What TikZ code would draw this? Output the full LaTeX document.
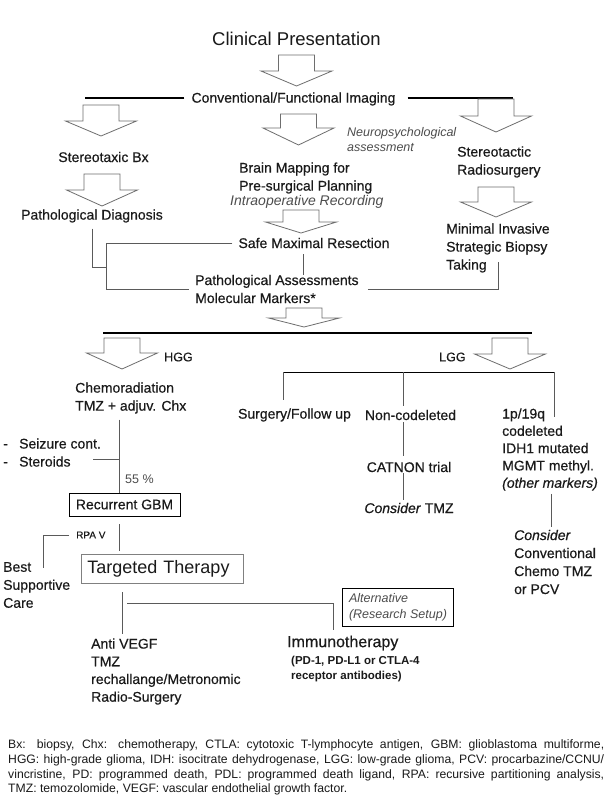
\documentclass[tikz,border=0pt]{standalone}
\usepackage{fontspec}
\setmainfont{Liberation Sans}
\newfontfamily\labelfont{Liberation Sans}[FakeBold=0.45]
\definecolor{ink}{HTML}{1A1A1A}
\definecolor{notegray}{HTML}{4D4D4D}
\definecolor{linegray}{HTML}{5A5A5A}
\definecolor{arrowgray}{HTML}{6E6E6E}
\definecolor{boxgray}{HTML}{808080}
% hollow block arrow: centre x, top, shoulder, tip
\newcommand{\blockarrow}[4]{%
  \draw[blockline] (#1-18,#2) -- (#1+18,#2) -- (#1+18,#3) -- (#1+35.5,#3)
    -- (#1,#4) -- (#1-35.5,#3) -- (#1-18,#3) -- cycle;}
\begin{document}
\begin{tikzpicture}[x=1pt,y=-1pt,
    lbl/.style={inner sep=0pt, text=ink, align=left, font=\labelfont\fontsize{14}{18}\selectfont},
    note/.style={lbl, text=notegray, font=\normalfont\fontsize{12.5}{15}\selectfont\itshape},
    conn/.style={draw=linegray, line width=0.8pt},
    mainline/.style={draw=black, line width=1.1pt},
    blockline/.style={draw=arrowgray, line width=0.8pt}]
    \path[fill=white] (0,0) rectangle (612,809);

    % Top: presentation and imaging
    \node[lbl, font=\normalfont\fontsize{18.5}{22}\selectfont] (title) at (296.5,39) {Clinical Presentation};
    \blockarrow{296.5}{55}{71}{86}
    \node[lbl] (imaging) at (293.5,99) {Conventional/Functional Imaging};
    \coordinate (imgL) at (85,98);
    \coordinate (imgR) at (513,98);
    \draw[mainline, shorten <=7pt] (imgL -| imaging.west) -- (imgL);
    \draw[mainline, shorten <=12pt] (imgR -| imaging.east) -- (imgR);
    \blockarrow{101}{105}{121}{136}
    \blockarrow{298.5}{114}{128}{145}
    \blockarrow{496}{99}{116}{132}

    % Three work-up routes
    \node[note, anchor=west] (neuro) at (347,139.5) {Neuropsychological\\assessment};
    \node[lbl] (stereobx) at (103.5,157) {Stereotaxic Bx};
    \node[lbl, anchor=west] (brain) at (239,178) {Brain Mapping for\\Pre-surgical Planning};
    \node[note, anchor=west, font=\normalfont\fontsize{14}{17}\selectfont\itshape] (intraop) at (230,202) {Intraoperative Recording};
    \node[lbl, anchor=west] (stsurg) at (457,162) {Stereotactic\\Radiosurgery};
    \blockarrow{102}{174}{190}{206}
    \blockarrow{496}{187}{202}{217}
    \blockarrow{301}{210}{222}{233}
    \node[lbl] (pathdx) at (92,216) {Pathological Diagnosis};
    \node[lbl] (safe) at (314,243) {Safe Maximal Resection};
    \node[lbl, anchor=west] (minimal) at (446,248) {Minimal Invasive\\Strategic Biopsy\\Taking};
    \node[lbl, anchor=west] (pathas) at (195,289) {Pathological Assessments\\Molecular Markers*};

    % Lines gathering into the pathology
    \coordinate (joinL) at (106,243);
    \coordinate (joinD) at (106,267);
    \coordinate (joinR) at (498,262);
    \coordinate (midX) at (303,0);
    \draw[conn, shorten <=6pt, shorten >=6pt] (safe.west) -- (joinL) |- (pathas.west);
    \draw[conn, shorten <=6pt] (pathdx.south) |- (joinD);
    \draw[conn, shorten <=6pt] (safe.south -| midX) -- (pathas.north -| midX);
    \draw[conn, shorten <=9pt] (pathas.east) -| (joinR);

    % Split into HGG / LGG
    \blockarrow{304}{308}{318}{327}
    \coordinate (splitL) at (103,333);
    \coordinate (splitR) at (532,333);
    \draw[mainline] (splitL) -- (splitR);
    \blockarrow{122}{338}{353}{369}
    \blockarrow{510}{338}{354}{369}
    \node[lbl, font=\labelfont\fontsize{12.5}{15}\selectfont, anchor=west] (hgg) at (164,357) {HGG};
    \node[lbl, font=\labelfont\fontsize{12.5}{15}\selectfont, anchor=west] (lgg) at (439,357) {LGG};

    % HGG branch
    \node[lbl, anchor=west] (chemo) at (75,398) {Chemoradiation\\TMZ + adjuv. Chx};
    \node[lbl, anchor=west] (sideeff) at (3,452.5) {\makebox[16pt][l]{-}Seizure cont.\\\makebox[16pt][l]{-}Steroids};
    \node[lbl, text=notegray, font=\normalfont\fontsize{12.5}{15}\selectfont, anchor=west] (rate) at (125,479) {55 \%};
    \node[lbl, draw=black, line width=0.9pt, minimum width=111pt, minimum height=23pt] (gbm) at (124.5,504.5) {Recurrent GBM};
    \node[lbl, font=\labelfont\fontsize{10}{12}\selectfont, anchor=west] (rpa) at (76,535) {RPA V};
    \node[lbl, anchor=west] (best) at (3,585) {Best\\Supportive\\Care};
    \node[lbl, draw=boxgray, line width=0.9pt, font=\normalfont\fontsize{18}{22}\selectfont, text width=150pt, inner xsep=6pt, minimum height=29pt, anchor=west] (targeted) at (81,568.5) {Targeted Therapy};
    \node[lbl, font=\labelfont\fontsize{14}{17.7}\selectfont, anchor=west] (antivegf) at (91,671.5) {Anti VEGF\\TMZ\\rechallange/Metronomic\\Radio-Surgery};
    \node[lbl, font=\labelfont\fontsize{16}{19}\selectfont, anchor=west] (immuno) at (287,643) {Immunotherapy};
    \node[lbl, font=\normalfont\fontsize{11.5}{15}\selectfont\bfseries, anchor=west] (pdl) at (291,669.5) {(PD-1, PD-L1 or CTLA-4\\receptor antibodies)};
    \node[note, draw=black, line width=0.8pt, inner xsep=6.5pt, minimum width=110pt, minimum height=38pt, font=\normalfont\fontsize{12.5}{16}\selectfont\itshape] (alt) at (398,607) {Alternative\\(Research Setup)};

    \coordinate (hggX) at (119,0);
    \coordinate (sideJ) at (93,459);
    \coordinate (bestJ) at (43,568);
    \coordinate (tgtX) at (122,0);
    \coordinate (tgtJ) at (127,603);
    \coordinate (immX) at (333,0);
    \draw[conn, shorten <=6pt] (chemo.south -| hggX) -- (gbm.north -| hggX);
    \draw[conn] (sideJ) -- (sideJ -| hggX);
    \draw[conn, shorten <=8pt, shorten >=3pt] (gbm.south -| hggX) -- (targeted.north -| hggX);
    \draw[conn, shorten <=7pt] (rpa.west) -| (bestJ);
    \draw[conn, shorten <=9pt, shorten >=4pt] (targeted.south -| tgtX) -- (antivegf.north -| tgtX);
    \draw[conn, shorten >=5pt] (tgtJ) -| (immuno.north -| immX);

    % LGG branch
    \coordinate (lggL) at (283,372);
    \coordinate (lggM) at (403,372);
    \coordinate (lggR) at (554,372);
    \coordinate (lggRend) at (554,417);
    \coordinate (mkX) at (551,0);
    \draw[mainline, line width=0.9pt] (lggL) -- (lggR);
    \node[lbl] (surgery) at (294.5,415) {Surgery/Follow up};
    \node[lbl] (noncod) at (410.5,415) {Non-codeleted};
    \node[lbl] (catnon) at (409,467) {CATNON trial};
    \node[lbl] (considertmz) at (409,508) {\textit{Consider} TMZ};
    \node[lbl, font=\labelfont\fontsize{14}{17.3}\selectfont, anchor=west] (markers) at (502,449.5) {1p/19q\\codeleted\\IDH1 mutated\\MGMT methyl.\\\textit{(other markers)}};
    \node[lbl, anchor=west] (conventional) at (514,562) {\textit{Consider}\\Conventional\\Chemo TMZ\\or PCV};
    \draw[conn, shorten >=8pt] (lggL) -- (lggL |- surgery.north);
    \draw[conn, shorten >=4pt] (lggM) -- (lggM |- noncod.north);
    \draw[conn] (lggR) -- (lggRend);
    \draw[conn, shorten <=2pt, shorten >=6pt] (noncod.south -| lggM) -- (catnon.north -| lggM);
    \draw[conn, shorten <=1pt, shorten >=3pt] (catnon.south -| lggM) -- (considertmz.north -| lggM);
    \draw[conn, shorten <=3pt, shorten >=3pt] (markers.south -| mkX) -- (conventional.north -| mkX);

    % Abbreviations
    \node[lbl, text width=596pt, align=justify, anchor=base west, font=\normalfont\fontsize{12.2}{14.7}\selectfont] (legend) at (8,748.7)
        {\hyphenpenalty=10000 Bx: biopsy, Chx: chemotherapy, CTLA: cytotoxic T-lymphocyte antigen, GBM: glioblastoma multiforme,\linebreak
        HGG: high-grade glioma, IDH: isocitrate dehydrogenase, LGG: low-grade glioma, PCV: procarbazine/CCNU/\linebreak
        vincristine, PD: programmed death, PDL: programmed death ligand, RPA: recursive partitioning analysis,\linebreak
        TMZ: temozolomide, VEGF: vascular endothelial growth factor.};
\end{tikzpicture}
\end{document}
